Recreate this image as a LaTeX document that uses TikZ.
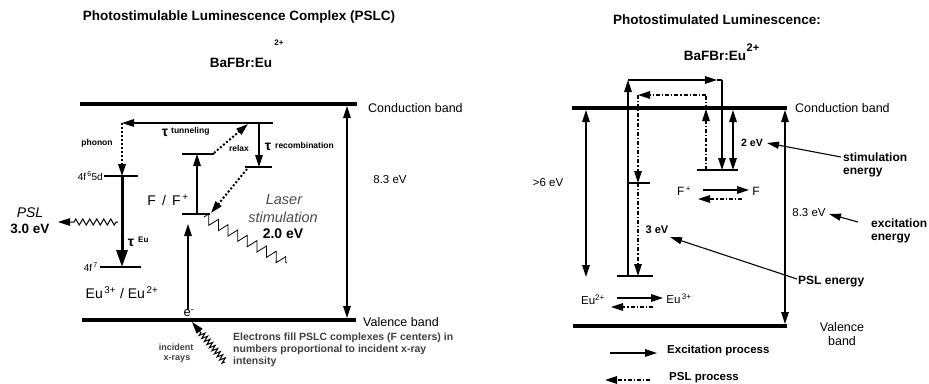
\documentclass[tikz,border=0pt]{standalone}
\usepackage{fontspec}
\setmainfont{Liberation Sans}
\usetikzlibrary{arrows.meta,decorations.pathmorphing}
\newcommand{\sz}[1]{\fontsize{#1}{#1}\selectfont}
\begin{document}
\begin{tikzpicture}[x=1pt,y=-1pt, every node/.style={inner sep=0pt},
  band/.style={line width=4pt},
  lvl/.style={line width=1.6pt},
  arr/.style={line width=1.3pt, -{Triangle[length=12pt,width=7.5pt]}},
  darr/.style={line width=1.3pt, {Triangle[length=12pt,width=7.5pt]}-{Triangle[length=12pt,width=7.5pt]}},
  dots/.style={line width=2pt, dash pattern=on 2pt off 2pt},
  psl/.style={line width=1.4pt, dash pattern=on 4pt off 2pt on 1.2pt off 2pt},
  ann/.style={line width=1.1pt, -{Triangle[length=12pt,width=7pt]}},
  lbl/.style={font=\sz{12.5}, anchor=west},
  small/.style={font=\bfseries\sz{8.5}},
  tau/.style={font=\bfseries\sz{14}},
  tip/.style={-{Triangle[length=12pt,width=7.5pt]}}
]
\useasboundingbox (0,0) rectangle (929,383);
\fill[white] (0,0) rectangle (929,383);

%================ LEFT =================
\node[font=\bfseries\sz{13.5}] (t1) at (239,17) {Photostimulable Luminescence Complex (PSLC)};
\node[font=\bfseries\sz{13.5}] (f1) at (241,63) {BaFBr:Eu};
\node[font=\bfseries\sz{8}] (f1s) at (279,43) {2+};

\coordinate (cbL1) at (80,104); \coordinate (cbL2) at (357,104);
\coordinate (vbL1) at (82,320); \coordinate (vbL2) at (356,320);
\draw[band] (cbL1) -- (cbL2);
\draw[band] (vbL1) -- (vbL2);
\node[lbl] (cbl) at (368,108) {Conduction band};
\node[lbl] (vbl) at (363,322) {Valence band};

% 8.3 eV
\coordinate (e8a) at (347,106); \coordinate (e8b) at (347,318);
\draw[darr] (e8a) -- (e8b);
\node[font=\sz{11.5}] (e8l) at (390,180) {8.3 eV};

% top line with tunneling
\coordinate (tA) at (273,123); \coordinate (tB) at (122,123);
\draw[arr] (tA) -- (tB);
% phonon
\coordinate (l5d) at (122,176);
\draw[dots, tip] (tB) -- (l5d);
\node[small] (ph) at (97,143) {phonon};
% 4f65d level
\coordinate (l5a) at (104,176); \coordinate (l5b) at (138,176);
\draw[lvl] (l5a) -- (l5b);
\node[font=\sz{10}, anchor=east] (l5t) at (103,176) {4f\textsuperscript{\,6}5d};
% tau Eu
\coordinate (l7) at (122,267);
\draw[line width=3pt, -{Triangle[length=17pt,width=11pt]}] (l5d) -- (l7);
\coordinate (l7a) at (100,267); \coordinate (l7b) at (141,267);
\draw[lvl] (l7a) -- (l7b);
\node[font=\sz{10}, anchor=east] (l7t) at (98,267) {4f\textsuperscript{\,7}};
\node[tau] (tauEu) at (131,243) {τ};
\node[font=\bfseries\sz{8}, anchor=west] (tauEut) at (138,240) {Eu};
\node[font=\sz{14}] (eu32) at (122,293) {Eu\textsuperscript{\,3+} / Eu\textsuperscript{\,2+}};

% PSL emission
\coordinate (ps1) at (118,222); \coordinate (ps2) at (58,222);
\draw[line width=1pt, tip, decorate, decoration={zigzag, segment length=7pt, amplitude=3pt, pre length=2pt, post length=13pt}] (ps1) -- (ps2);
\node[font=\itshape\sz{14}] (pslt) at (30,213) {PSL};
\node[font=\bfseries\sz{13.5}] (pslv) at (30,229) {3.0 eV};

% F centre levels
\coordinate (fua) at (182,154); \coordinate (fub) at (214,154);
\draw[lvl] (fua) -- (fub);
\coordinate (fla) at (182,214); \coordinate (flb) at (210,214);
\draw[lvl] (fla) -- (flb);
\coordinate (fv1) at (197,214); \coordinate (fv2) at (197,154);
\draw[arr] (fv1) -- (fv2);
\node[font=\sz{14}] (fft) at (168,200) {F\, /\, F\textsuperscript{\,+}};

% tunneling / relax / recombination
\node[tau] (taut) at (165,133) {τ};
\node[small, anchor=west] (tautt) at (171,131) {tunneling};
\coordinate (rx1) at (214,153); \coordinate (rx2) at (248,124);
\draw[dots, tip] (rx1) -- (rx2);
\node[small] (rxl) at (239,148) {relax};
\coordinate (rc1) at (259,123); \coordinate (rc2) at (259,167);
\draw[arr] (rc1) -- (rc2);
\coordinate (rca) at (245,167); \coordinate (rcb) at (272,167);
\draw[lvl] (rca) -- (rcb);
\node[tau] (taur) at (268,147) {τ};
\node[small, anchor=west] (taurt) at (275,145) {recombination};
\coordinate (dr1) at (247,169); \coordinate (dr2) at (211,213);
\draw[dots, tip] (dr1) -- (dr2);

% laser
\coordinate (ls1) at (204,217); \coordinate (ls2) at (287,263);
\draw[line width=0.8pt, decorate, decoration={zigzag, segment length=11pt, amplitude=5pt}] (ls1) -- (ls2);
\node[font=\itshape\sz{14.5}, text=black!70] (lsa) at (284,200) {Laser};
\node[font=\itshape\sz{14.5}, text=black!70] (lsb) at (283,217) {stimulation};
\node[font=\bfseries\sz{14}] (lsc) at (283,234) {2.0 eV};

% electron
\coordinate (ee1) at (188,310); \coordinate (ee2) at (188,224);
\draw[arr] (ee1) -- (ee2);
\node[font=\sz{13}] (el) at (189,313) {e\textsuperscript{-}};
\coordinate (xr1) at (225,362); \coordinate (xr2) at (192,322);
\draw[line width=1pt, tip, decorate, decoration={zigzag, segment length=4pt, amplitude=3pt, post length=13pt}] (xr1) -- (xr2);
\node[font=\bfseries\sz{9}, text=black!75] (xi1) at (176,347) {incident};
\node[font=\bfseries\sz{9}, text=black!75] (xi2) at (177,359) {x-rays};
\node[font=\bfseries\sz{10.5}, text=black!75, anchor=north west, align=left] (elt) at (233,333)
  {Electrons fill PSLC complexes (F centers) in\\[1.3pt]numbers proportional to incident x-ray\\[1.3pt]intensity};

%================ RIGHT =================
\node[font=\bfseries\sz{13.5}] (t2) at (717,20) {Photostimulated Luminescence:};
\node[font=\bfseries\sz{13.5}] (f2) at (715,56) {BaFBr:Eu};
\node[font=\bfseries\sz{11}] (f2s) at (753,48) {2+};

\coordinate (cbR1) at (572,108); \coordinate (cbR2) at (787,108);
\coordinate (vbR1) at (573,326); \coordinate (vbR2) at (787,326);
\draw[band] (cbR1) -- (cbR2);
\draw[band] (vbR1) -- (vbR2);
\node[lbl] (cbr) at (795,108) {Conduction band};
\node[font=\sz{12.5}, align=center] (vbr) at (842,334) {Valence\\[1pt]band};

% >6 eV
\coordinate (g6a) at (586,110); \coordinate (g6b) at (586,277);
\draw[darr] (g6a) -- (g6b);
\node[font=\sz{11.5}] (g6l) at (548,183) {>6 eV};

% 8.3 eV
\coordinate (r8a) at (785,110); \coordinate (r8b) at (785,324);
\draw[darr] (r8a) -- (r8b);
\node[font=\sz{11.5}] (r8l) at (809,213) {8.3 eV};

% levels
\coordinate (ba) at (617,276); \coordinate (bb) at (653,276);
\draw[lvl] (ba) -- (bb);
\coordinate (ma) at (627,183); \coordinate (mb) at (650,183);
\draw[lvl] (ma) -- (mb);
\coordinate (fa) at (697,170); \coordinate (fb) at (738,170);
\draw[lvl] (fa) -- (fb);

% excitation path
\coordinate (x1) at (628,276); \coordinate (x2) at (628,80);
\coordinate (x3) at (717,80); \coordinate (x4) at (722,80); \coordinate (x5) at (722,170);
\draw[arr] (x1) -- (x2);
\draw[arr] (x2) -- (x3);
\draw[line width=1.3pt] (x3) -- (x4);
\draw[arr] (x4) -- (x5);

% 2 eV
\coordinate (s2a) at (733,110); \coordinate (s2b) at (733,170);
\draw[darr] (s2a) -- (s2b);
\node[font=\bfseries\sz{10.5}] (s2l) at (752,143) {2 eV};

% PSL path
\coordinate (p1) at (706,170); \coordinate (p2) at (706,109); \coordinate (p3) at (706,95);
\coordinate (p4) at (638,95); \coordinate (p5) at (638,183); \coordinate (p6) at (638,276);
\draw[psl, tip] (p1) -- (p2);
\draw[psl] (p2) -- (p3);
\draw[psl, tip] (p3) -- (p4);
\draw[psl, tip] (p4) -- (p5);
\draw[psl, tip] (p5) -- (p6);
\node[font=\bfseries\sz{11}] (e3l) at (657,230) {3 eV};

% F+ -> F
\node[font=\sz{12}] (fp) at (684,191) {F\textsuperscript{\,+}};
\node[font=\sz{12}] (ff) at (756,191) {F};
\coordinate (fa1) at (703,190); \coordinate (fa2) at (749,190);
\draw[arr] (fa1) -- (fa2);
\coordinate (fd1) at (742,199); \coordinate (fd2) at (698,199);
\draw[psl, tip] (fd1) -- (fd2);

% Eu2+ -> Eu3+
\node[font=\sz{11.5}] (eu2) at (593,300) {Eu\textsuperscript{2+}};
\node[font=\sz{11.5}] (eu3) at (679,299) {Eu\textsuperscript{\,3+}};
\coordinate (ea1) at (617,298); \coordinate (ea2) at (663,298);
\draw[arr] (ea1) -- (ea2);
\coordinate (ed1) at (653,307); \coordinate (ed2) at (611,307);
\draw[psl, tip] (ed1) -- (ed2);

% annotations
\node[font=\bfseries\sz{12}, anchor=west, align=left] (st) at (843,165) {stimulation\\[1pt]energy};
\coordinate (sa1) at (841,157); \coordinate (sa2) at (767,143);
\draw[ann] (sa1) -- (sa2);
\node[font=\bfseries\sz{12}, anchor=west, align=left] (ex) at (871,231) {excitation\\[1pt]energy};
\coordinate (xa1) at (858,222); \coordinate (xa2) at (829,214);
\draw[ann] (xa1) -- (xa2);
\node[font=\bfseries\sz{12}, anchor=west] (pe) at (798,282) {PSL energy};
\coordinate (pa1) at (797,279); \coordinate (pa2) at (670,237);
\draw[ann] (pa1) -- (pa2);

% legend
\coordinate (lg1) at (610,353); \coordinate (lg2) at (657,353);
\draw[arr] (lg1) -- (lg2);
\node[font=\bfseries\sz{11.5}, anchor=west] (lgt1) at (667,351) {Excitation process};
\coordinate (lg3) at (650,380); \coordinate (lg4) at (605,380);
\draw[psl, tip] (lg3) -- (lg4);
\node[font=\bfseries\sz{11.5}, anchor=west] (lgt2) at (669,378) {PSL process};
\end{tikzpicture}
\end{document}
